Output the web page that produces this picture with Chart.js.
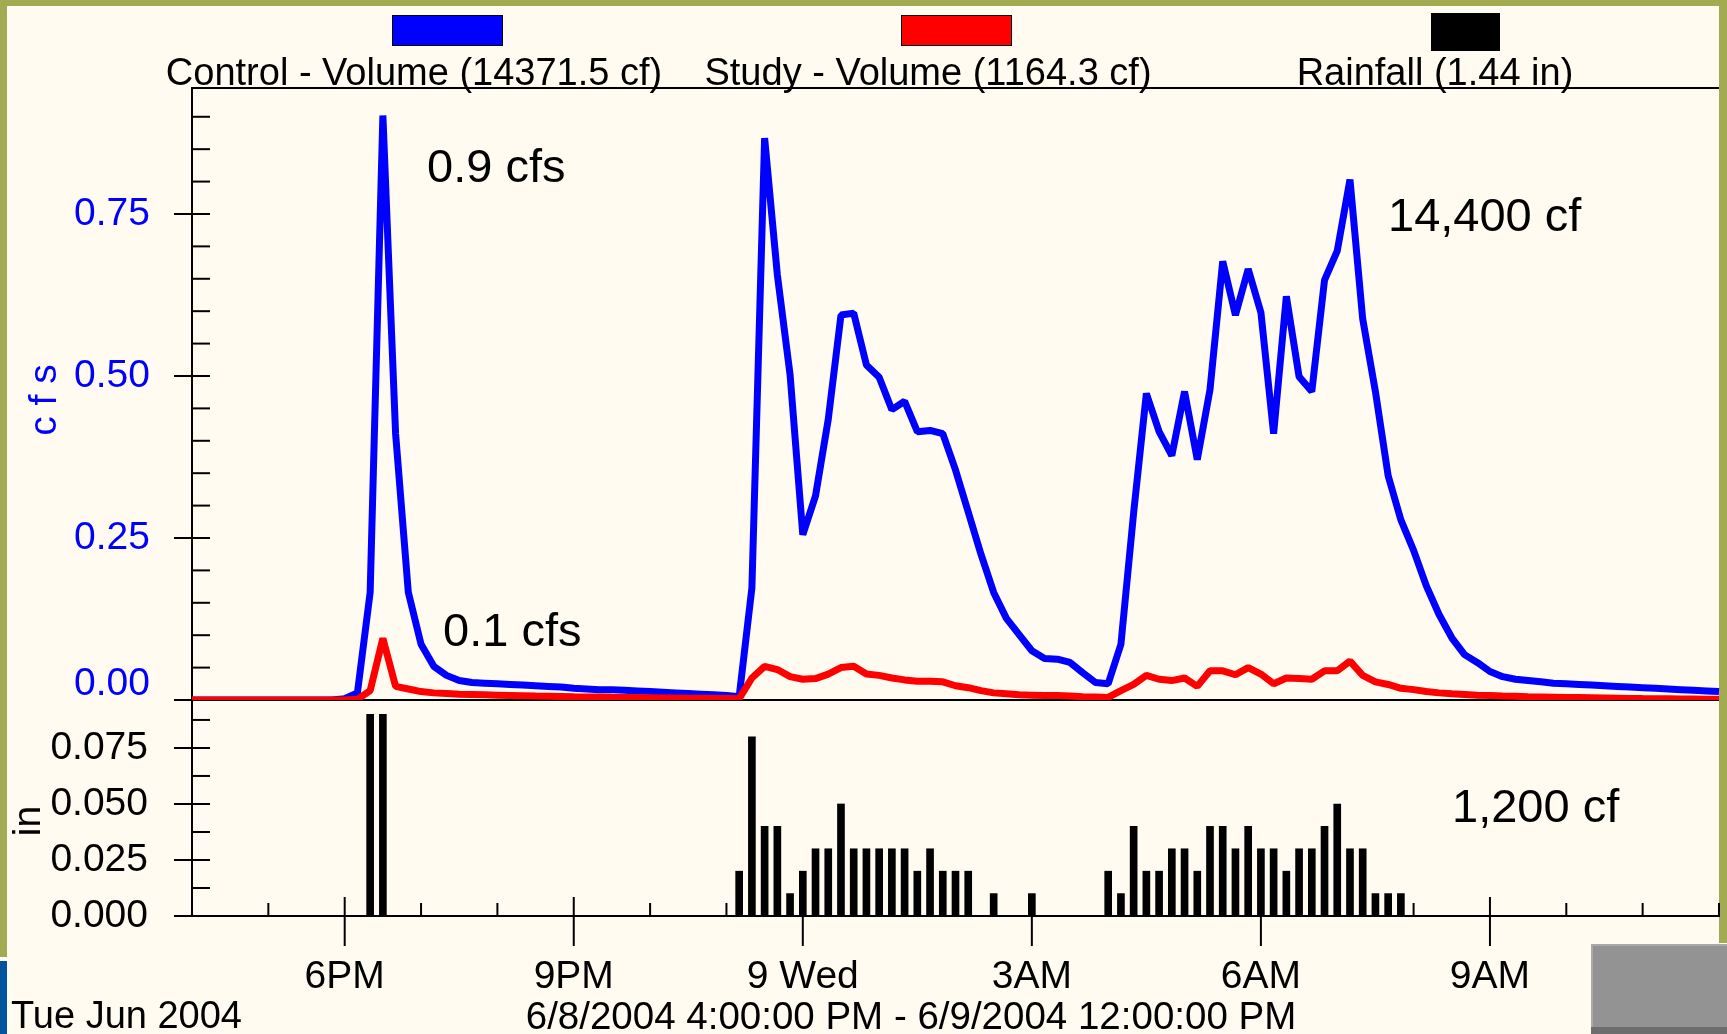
<!DOCTYPE html>
<html>
<head>
<meta charset="utf-8">
<script src="https://cdn.jsdelivr.net/npm/chart.js@4/dist/chart.umd.min.js"></script>
<style>
html,body{margin:0;padding:0;background:#FFFBF0;overflow:hidden}
canvas{display:block}
</style>
</head>
<body>
<canvas id="c" width="1727" height="1034"></canvas>
<script>
// ---------- data (10-minute steps, 6/8/2004 4:00 PM -> 6/9/2004 12:00 PM) ----------
const timeLabels = [];
for (let m = 16 * 60; m <= 36 * 60; m += 10) {
  const h = Math.floor(m / 60) % 24, mm = m % 60;
  const h12 = h % 12 === 0 ? 12 : h % 12;
  timeLabels.push((m < 1440 ? '6/8 ' : '6/9 ') + h12 + ':' + String(mm).padStart(2, '0') + (h < 12 ? ' AM' : ' PM'));
}

// Control flow, cfs (one row per hour)
const controlFlow = [
  0, 0, 0, 0, 0, 0,                               // 4 PM
  0, 0, 0, 0, 0, 0,                               // 5 PM
  0.002, 0.011, 0.166, 0.902, 0.411, 0.166,       // 6 PM
  0.086, 0.052, 0.038, 0.030, 0.027, 0.026,       // 7 PM
  0.025, 0.024, 0.023, 0.022, 0.021, 0.020,       // 8 PM
  0.018, 0.017, 0.016, 0.016, 0.015, 0.014,       // 9 PM
  0.013, 0.012, 0.011, 0.010, 0.009, 0.008,       // 10 PM
  0.007, 0.005, 0.173, 0.867, 0.656, 0.502,       // 11 PM
  0.255, 0.315, 0.433, 0.594, 0.597, 0.517,       // 12 AM
  0.498, 0.448, 0.461, 0.414, 0.416, 0.411,       // 1 AM
  0.355, 0.290, 0.225, 0.166, 0.126, 0.101,       // 2 AM
  0.076, 0.064, 0.063, 0.058, 0.042, 0.027,       // 3 AM
  0.025, 0.086, 0.289, 0.473, 0.414, 0.377,       // 4 AM
  0.476, 0.371, 0.479, 0.677, 0.594, 0.665,       // 5 AM
  0.598, 0.411, 0.623, 0.499, 0.476, 0.648,       // 6 AM
  0.693, 0.803, 0.588, 0.476, 0.346, 0.278,       // 7 AM
  0.231, 0.176, 0.132, 0.096, 0.070, 0.058,       // 8 AM
  0.044, 0.036, 0.032, 0.030, 0.028, 0.026,       // 9 AM
  0.025, 0.024, 0.023, 0.022, 0.021, 0.020,       // 10 AM
  0.019, 0.018, 0.017, 0.016, 0.015, 0.014,       // 11 AM
  0.013                                           // 12 PM
];

// Study flow, cfs
const studyFlow = [
  0, 0, 0, 0, 0, 0,
  0, 0, 0, 0, 0, 0,
  0, 0.001, 0.0145, 0.095, 0.021, 0.017,
  0.013, 0.011, 0.010, 0.009, 0.0085, 0.008,
  0.0075, 0.007, 0.0065, 0.006, 0.0058, 0.0055,
  0.005, 0.0048, 0.0045, 0.0042, 0.004, 0.0038,
  0.0035, 0.0032, 0.003, 0.0028, 0.0026, 0.0024,
  0.0022, 0.002, 0.034, 0.052, 0.047, 0.036,
  0.032, 0.033, 0.040, 0.050, 0.052, 0.040,
  0.038, 0.034, 0.031, 0.029, 0.029, 0.028,
  0.022, 0.019, 0.0145, 0.011, 0.0095, 0.008,
  0.0075, 0.007, 0.007, 0.006, 0.005, 0.0045,
  0.004, 0.0145, 0.024, 0.038, 0.032, 0.030,
  0.034, 0.021, 0.045, 0.045, 0.039, 0.050,
  0.040, 0.025, 0.034, 0.033, 0.032, 0.045,
  0.045, 0.060, 0.038, 0.028, 0.024, 0.018,
  0.016, 0.013, 0.011, 0.0095, 0.0085, 0.0075,
  0.007, 0.0062, 0.0056, 0.005, 0.0047, 0.0044,
  0.004, 0.0037, 0.0034, 0.0031, 0.0028, 0.0025,
  0.0022, 0.002, 0.0018, 0.0016, 0.0014, 0.0012,
  0.001
];

// Rainfall, in per 10 minutes
const rainfall = [
  0, 0, 0, 0, 0, 0,
  0, 0, 0, 0, 0, 0,
  0, 0, 0.09, 0.09, 0, 0,
  0, 0, 0, 0, 0, 0,
  0, 0, 0, 0, 0, 0,
  0, 0, 0, 0, 0, 0,
  0, 0, 0, 0, 0, 0,
  0, 0.02, 0.08, 0.04, 0.04, 0.01,
  0.02, 0.03, 0.03, 0.05, 0.03, 0.03,
  0.03, 0.03, 0.03, 0.02, 0.03, 0.02,
  0.02, 0.02, 0, 0.01, 0, 0,
  0.01, 0, 0, 0, 0, 0,
  0.02, 0.01, 0.04, 0.02, 0.02, 0.03,
  0.03, 0.02, 0.04, 0.04, 0.03, 0.04,
  0.03, 0.03, 0.02, 0.03, 0.03, 0.04,
  0.05, 0.03, 0.03, 0.01, 0.01, 0.01,
  0, 0, 0, 0, 0, 0,
  0, 0, 0, 0, 0, 0,
  0, 0, 0, 0, 0, 0,
  0, 0, 0, 0, 0, 0,
  0
];

const seriesNames = ['Control - Volume (14371.5 cf)', 'Study - Volume (1164.3 cf)', 'Rainfall (1.44 in)'];
const seriesColors = ['#0000FF', '#FF0000', '#000000'];
const xTickIndex = [12, 30, 48, 66, 84, 102];
const xTickLabels = ['6PM', '9PM', '9 Wed', '3AM', '6AM', '9AM'];
const axisTitles = ['c f s', 'in'];
const annotations = ['0.9 cfs', '0.1 cfs', '14,400 cf', '1,200 cf'];
const footerLeft = 'Tue Jun 2004';
const footerRange = '6/8/2004 4:00:00 PM - 6/9/2004 12:00:00 PM';

// ---------- styling helpers ----------
const FONT = '"Liberation Sans", Arial, Helvetica, sans-serif';
const CREAM = '#FFFBF0';
const OLIVE = '#A2AB52';

function isMajor(v, step) { return Math.abs(v / step - Math.round(v / step)) < 1e-6; }
function seg(ctx, x1, y1, x2, y2) { ctx.beginPath(); ctx.moveTo(x1, y1); ctx.lineTo(x2, y2); ctx.stroke(); }
function txt(ctx, s, x, y, size, color, align, rot) {
  ctx.save();
  ctx.font = size + 'px ' + FONT;
  ctx.fillStyle = color;
  ctx.textAlign = align;
  ctx.textBaseline = 'middle';
  ctx.translate(x, y);
  if (rot) ctx.rotate(rot);
  ctx.fillText(s, 0, 0);
  ctx.restore();
}

const framePlugin = {
  id: 'frame',
  beforeDraw(chart) {
    const ctx = chart.ctx;
    ctx.save();
    ctx.fillStyle = CREAM;
    ctx.fillRect(0, 0, 1727, 1034);
    ctx.fillStyle = OLIVE;
    ctx.fillRect(0, 0, 1727, 6);
    ctx.fillRect(0, 0, 7, 957);
    ctx.fillRect(1719, 0, 8, 943);
    ctx.fillStyle = '#00539C';
    ctx.fillRect(0, 961, 7, 73);
    ctx.restore();
  },
  beforeDatasetsDraw(chart) {
    const ctx = chart.ctx, ca = chart.chartArea;
    const ys = chart.scales.y, ys2 = chart.scales.y2, xs = chart.scales.x;
    ctx.save();
    ctx.strokeStyle = '#000';
    ctx.lineWidth = 2;
    seg(ctx, ca.left, ca.top, ca.right, ca.top);
    const y0 = ys.getPixelForValue(0);
    seg(ctx, ca.left, y0, ca.right, y0);
    [[ys, 0.25], [ys2, 0.025]].forEach(([s, step]) => {
      s.ticks.forEach(t => {
        const p = s.getPixelForValue(t.value);
        seg(ctx, isMajor(t.value, step) ? s.right - 18 : s.right, p, s.right + 18, p);
      });
    });
    xs.ticks.forEach((t, i) => {
      if (i % 6) return;
      const p = xs.getPixelForTick(i);
      const major = xTickIndex.includes(i);
      seg(ctx, p, xs.top - (major ? 19 : 13), p, xs.top + (major ? 30 : 0));
    });
    ctx.restore();
    // axis titles
    txt(ctx, axisTitles[0], 45, (ys.top + ys.bottom) / 2 + 6, 39, '#0000FF', 'center', -Math.PI / 2);
    txt(ctx, axisTitles[1], 29, (ys2.top + ys2.bottom) / 2 + 13, 39, '#000', 'center', -Math.PI / 2);
  },
  afterDraw(chart) {
    const ctx = chart.ctx;
    ctx.save();
    // legend
    const boxes = [[392, 15, 111, 31], [901, 15, 111, 31], [1431, 13, 69, 38]];
    const centers = [414, 928, 1435];
    boxes.forEach((b, i) => {
      ctx.fillStyle = seriesColors[i];
      ctx.fillRect(b[0], b[1], b[2], b[3]);
      ctx.strokeStyle = '#000';
      ctx.lineWidth = 1;
      ctx.strokeRect(b[0] + 0.5, b[1] + 0.5, b[2] - 1, b[3] - 1);
      txt(ctx, seriesNames[i], centers[i], 75, 38, '#000', 'center');
    });
    // annotations
    txt(ctx, annotations[0], 427, 169, 47, '#000', 'left');
    txt(ctx, annotations[1], 443, 633, 47, '#000', 'left');
    txt(ctx, annotations[2], 1388, 218, 47, '#000', 'left');
    txt(ctx, annotations[3], 1452, 809, 47, '#000', 'left');
    // footer
    txt(ctx, footerLeft, 11, 1018, 38, '#000', 'left');
    txt(ctx, footerRange, 911, 1018, 38.5, '#000', 'center');
    // grey box bottom right
    ctx.fillStyle = '#939393';
    ctx.fillRect(1591, 944, 136, 90);
    ctx.fillStyle = '#A9A9A9';
    ctx.fillRect(1591, 944, 136, 2);
    ctx.fillRect(1591, 944, 2, 90);
    ctx.fillStyle = '#6E6E6E';
    ctx.fillRect(1591, 1027, 136, 7);
    ctx.restore();
  }
};

new Chart(document.getElementById('c'), {
  type: 'line',
  data: {
    labels: timeLabels,
    datasets: [
      { label: seriesNames[1], data: studyFlow, yAxisID: 'y', borderColor: seriesColors[1], backgroundColor: seriesColors[1],
        borderWidth: 7, pointRadius: 0, tension: 0, fill: false, borderJoinStyle: 'bevel', order: 0 },
      { label: seriesNames[0], data: controlFlow, yAxisID: 'y', borderColor: seriesColors[0], backgroundColor: seriesColors[0],
        borderWidth: 7, pointRadius: 0, tension: 0, fill: false, borderJoinStyle: 'bevel', order: 1 },
      { type: 'bar', label: seriesNames[2], data: rainfall, yAxisID: 'y2', backgroundColor: seriesColors[2],
        borderWidth: 0, barThickness: 7, order: 2 }
    ]
  },
  options: {
    responsive: false,
    animation: false,
    devicePixelRatio: 1,
    layout: { padding: { top: 88, right: 8, left: 0, bottom: 0 } },
    plugins: { legend: { display: false }, tooltip: { enabled: false } },
    scales: {
      x: {
        type: 'category', offset: false,
        grid: { display: false, offset: false, drawTicks: true, tickLength: 30 },
        border: { display: true, color: '#000', width: 2 },
        ticks: {
          autoSkip: false, maxRotation: 0, minRotation: 0, padding: 8, color: '#000',
          font: { family: FONT, size: 39 },
          callback: (v, i) => { const k = xTickIndex.indexOf(i); return k >= 0 ? xTickLabels[k] : ''; }
        },
        afterFit: s => { s.height = 118; }
      },
      y: {
        type: 'linear', position: 'left', stack: 'cfs-in', stackWeight: 612, weight: 2,
        min: 0, max: 0.9444, bounds: 'data',
        grid: { display: false, drawTicks: true, tickLength: 18 },
        border: { display: true, color: '#000', width: 2 },
        ticks: {
          stepSize: 0.05, includeBounds: false, autoSkip: false, padding: 24, color: '#0000FF',
          font: { family: FONT, size: 39, lineHeight: 0.8 },
          callback: v => isMajor(v, 0.25) ? (Math.abs(v) < 1e-9 ? ['0.00', ''] : v.toFixed(2)) : ''
        },
        title: { display: false },
        afterFit: s => { s.width = 192; }
      },
      y2: {
        type: 'linear', position: 'left', stack: 'cfs-in', stackWeight: 216, weight: 1,
        min: 0, max: 0.0964, bounds: 'data',
        grid: { display: false, drawTicks: true, tickLength: 18 },
        border: { display: true, color: '#000', width: 2 },
        ticks: {
          stepSize: 0.0125, includeBounds: false, autoSkip: false, padding: 26, color: '#000',
          font: { family: FONT, size: 39 },
          callback: v => isMajor(v, 0.025) ? v.toFixed(3) : ''
        },
        title: { display: false },
        afterFit: s => { s.width = 192; }
      }
    }
  },
  plugins: [framePlugin]
});
</script>
</body>
</html>
